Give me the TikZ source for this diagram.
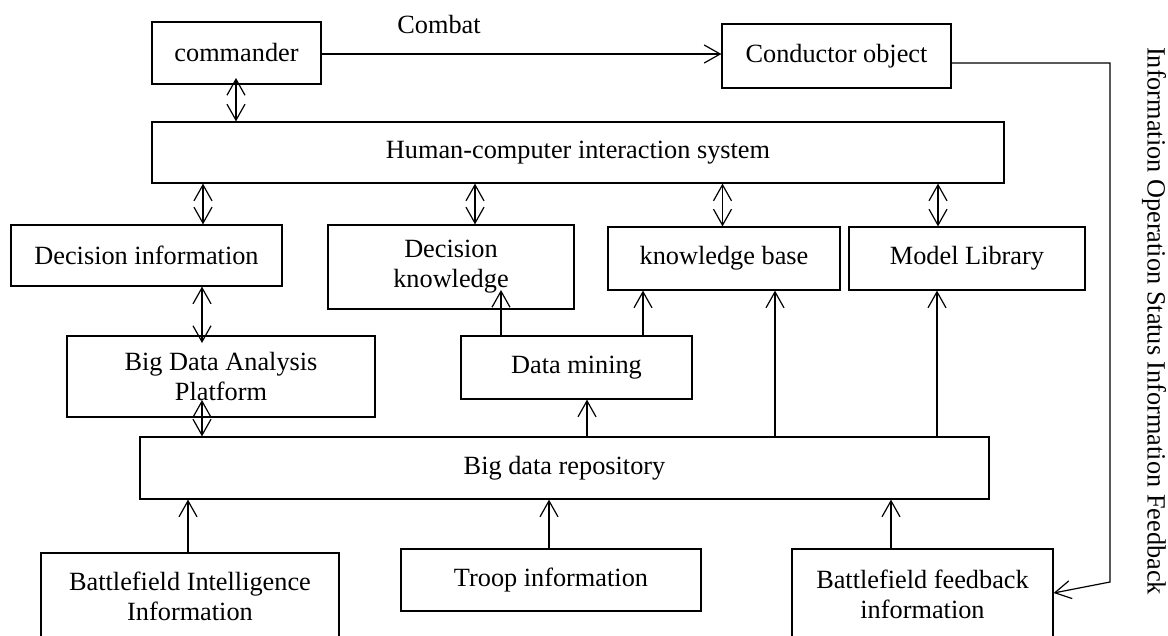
\documentclass[tikz,border=0pt]{standalone}
\usepackage{fontspec}
\setmainfont{Liberation Serif}
\usetikzlibrary{arrows.meta}
\begin{document}
\begin{tikzpicture}[x=1pt,y=-1pt,
  box/.style={draw,line width=1.2pt,inner sep=0pt,align=center,font=\fontsize{26.3}{30}\selectfont},
  lbl/.style={inner sep=0pt,font=\fontsize{26.3}{29}\selectfont},
  link/.style={line width=1.2pt},
  arr/.style={link,-{Straight Barb[length=16pt,width=18pt,line width=1.2pt]}},
  dbl/.style={link,{Straight Barb[length=16pt,width=18pt,line width=1.2pt]}-{Straight Barb[length=16pt,width=18pt,line width=1.2pt]}}]
\useasboundingbox (0,0) rectangle (1168,635);
\clip (0,0) rectangle (1168,635);
\fill[white] (0,0) rectangle (1168,635);
% boxes
\node[box,minimum width=169pt,minimum height=62pt] (cmd) at (236.5,53) {commander};
\node[box,minimum width=229pt,minimum height=64pt] (cond) at (836.5,56) {Conductor object};
\node[box,minimum width=852pt,minimum height=61pt] (hci) at (578,152.5) {Human-computer interaction system};
\node[box,minimum width=271pt,minimum height=61pt] (dinfo) at (146.5,255.5) {Decision information};
\node[box,minimum width=246pt,minimum height=84pt] (dknow) at (451,267) {Decision\\knowledge};
\node[box,minimum width=232pt,minimum height=63pt] (kb) at (724,258.5) {knowledge base};
\node[box,minimum width=236pt,minimum height=63pt] (ml) at (967,258.5) {Model Library};
\node[box,minimum width=308pt,minimum height=81pt] (bdap) at (221,376.5) {Big Data Analysis\\Platform};
\node[box,minimum width=231pt,minimum height=63pt] (dm) at (576.5,367.5) {Data mining};
\node[box,minimum width=849pt,minimum height=62pt] (repo) at (564.5,468) {Big data repository};
\node[box,minimum width=298pt,minimum height=86pt] (bi) at (190,596) {Battlefield Intelligence\\Information};
\node[box,minimum width=300pt,minimum height=62pt] (troop) at (551,580) {Troop information};
\node[box,minimum width=261pt,minimum height=90pt] (bfb) at (922.5,594) {Battlefield feedback\\information};
\node[lbl] (combat) at (439,25) {Combat};
\node[lbl,rotate=-90] (side) at (1154,321) {Information Operation Status Information Feedback};
% helper coordinates
\coordinate (dkin) at (501,290);
\coordinate (fb1) at (1110,63);
\coordinate (fb2) at (1110,582);
% connectors
\draw[arr] (cmd.east |- 0,54) -- (cond.west |- 0,54);
\draw[dbl] (236,0 |- 0,78) -- (236,0 |- hci.north);
\draw[dbl] (203,0 |- hci.south) -- (203,0 |- dinfo.north);
\draw[dbl] (475,0 |- hci.south) -- (475,0 |- dknow.north);
\draw[dbl] (722.5,0 |- hci.south) -- (722.5,0 |- kb.north);
\draw[dbl] (938,0 |- hci.south) -- (938,0 |- ml.north);
\draw[dbl] (202,0 |- dinfo.south) -- (202,343);
\draw[dbl] (202,400) -- (202,0 |- repo.north);
\draw[arr] (501,0 |- dm.north) -- (dkin);
\draw[arr] (643,0 |- dm.north) -- (643,0 |- kb.south);
\draw[arr] (775,0 |- repo.north) -- (775,0 |- kb.south);
\draw[arr] (937,0 |- repo.north) -- (937,0 |- ml.south);
\draw[arr] (587,0 |- repo.north) -- (587,0 |- dm.south);
\draw[arr] (188,0 |- bi.north) -- (188,0 |- repo.south);
\draw[arr] (549,0 |- troop.north) -- (549,0 |- repo.south);
\draw[arr] (891,0 |- bfb.north) -- (891,0 |- repo.south);
\draw[arr] (cond.east |- fb1) -- (fb1) -- (fb2) -- (bfb.east |- 0,593);
\end{tikzpicture}
\end{document}
